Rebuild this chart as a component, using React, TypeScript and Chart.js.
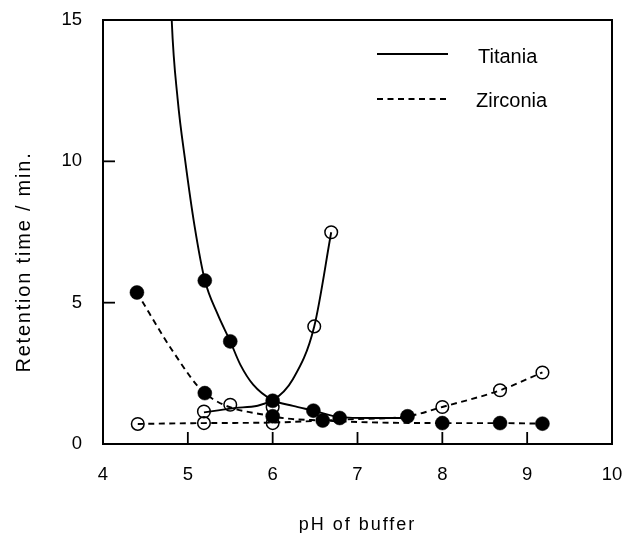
import React, { useEffect, useRef } from "react";
import { Chart, registerables } from "chart.js";

Chart.register(...registerables);

// Axis ticks
const xTicks = [4, 5, 6, 7, 8, 9, 10];
const yTicks = [0, 5, 10, 15];

// Text
const xTitle = "pH of buffer";
const yTitle = "Retention time / min.";
const legendLabels = ["Titania", "Zirconia"];

// Measured points — Titania (solid curves)
const tiFilledX = [5.2, 5.5, 6.0, 6.48, 6.79, 7.59];
const tiFilledY = [5.78, 3.63, 1.53, 1.18, 0.92, 0.98];
const tiOpenX = [5.19, 5.5, 6.0, 6.49, 6.69];
const tiOpenY = [1.15, 1.39, 1.3, 4.16, 7.49];

// Measured points — Zirconia (dashed curves)
const zrFilledX = [4.4, 5.2, 6.0, 6.59, 8.0, 8.68, 9.18];
const zrFilledY = [5.36, 1.8, 0.98, 0.83, 0.74, 0.74, 0.72];
const zrOpenX = [4.41, 5.19, 6.0, 8.0, 8.68, 9.18];
const zrOpenY = [0.71, 0.74, 0.74, 1.31, 1.9, 2.53];

// Fitted curves
const tiCurve1X = [4.8, 4.81, 4.88, 4.97, 5.08, 5.2, 5.35, 5.5, 5.62, 5.77, 6.0, 6.24, 6.48, 6.79, 7.15, 7.52];
const tiCurve1Y = [16, 15, 12.2, 10, 7.7, 5.8, 4.6, 3.63, 2.8, 2.1, 1.55, 1.35, 1.18, 0.95, 0.92, 0.92];
const tiCurve2X = [5.19, 5.5, 6.0, 6.24, 6.49, 6.69];
const tiCurve2Y = [1.12, 1.25, 1.55, 2.3, 4.16, 7.49];
const zrCurve1X = [4.4, 4.83, 5.2, 6.0, 6.59, 8.0, 8.68, 9.18];
const zrCurve1Y = [5.36, 3.25, 1.8, 0.98, 0.83, 0.74, 0.74, 0.72];
const zrCurve2X = [4.41, 5.19, 6.0, 6.95, 7.59, 8.0, 8.68, 9.18];
const zrCurve2Y = [0.71, 0.74, 0.76, 0.88, 0.98, 1.31, 1.9, 2.53];

const FONT = "'Liberation Sans', Arial, Helvetica, sans-serif";
const DASH = [6, 4.5];

const pts = (xs: number[], ys: number[]) => xs.map((x, i) => ({ x, y: ys[i] }));

const zeroPad = (s: any) => {
  s.paddingLeft = 0;
  s.paddingRight = 0;
  s.paddingTop = 0;
  s.paddingBottom = 0;
};

export default function App() {
  const ref = useRef<HTMLCanvasElement>(null);

  useEffect(() => {
    if (!ref.current) return;

    const curve = (label: string, xs: number[], ys: number[], dash: number[]) => ({
      type: "line" as const,
      label,
      data: pts(xs, ys),
      borderColor: "#000",
      borderWidth: 1.9,
      borderDash: dash,
      pointRadius: 0,
      fill: false,
      showLine: true,
      cubicInterpolationMode: "monotone" as const,
      order: 2,
    });
    const markers = (label: string, xs: number[], ys: number[], filled: boolean) => ({
      type: "scatter" as const,
      label,
      data: pts(xs, ys),
      showLine: false,
      pointRadius: filled ? 7 : 6.3,
      pointBackgroundColor: filled ? "#000" : "rgba(0,0,0,0)",
      pointBorderColor: "#000",
      pointBorderWidth: filled ? 0.5 : 1.5,
      order: 1,
    });

    const framePlugin = {
      id: "frame",
      afterDraw(chart: any) {
        const { ctx, chartArea: a, scales } = chart;
        ctx.save();
        ctx.strokeStyle = "#000";
        ctx.setLineDash([]);
        ctx.lineWidth = 2;
        ctx.strokeRect(a.left, a.top, a.right - a.left, a.bottom - a.top);
        ctx.lineWidth = 1.8;
        const tl = 12;
        xTicks.slice(1, -1).forEach((v) => {
          const px = scales.x.getPixelForValue(v);
          ctx.beginPath();
          ctx.moveTo(px, a.bottom);
          ctx.lineTo(px, a.bottom - tl);
          ctx.stroke();
        });
        yTicks.slice(1, -1).forEach((v) => {
          const py = scales.y.getPixelForValue(v);
          ctx.beginPath();
          ctx.moveTo(a.left, py);
          ctx.lineTo(a.left + tl, py);
          ctx.stroke();
        });

        // Legend
        ctx.fillStyle = "#000";
        ctx.font = `20px ${FONT}`;
        ctx.textAlign = "left";
        ctx.textBaseline = "alphabetic";
        ctx.lineWidth = 1.8;
        ctx.beginPath();
        ctx.moveTo(377, 54);
        ctx.lineTo(448, 54);
        ctx.stroke();
        ctx.fillText(legendLabels[0], 478, 62.5);
        ctx.setLineDash(DASH);
        ctx.beginPath();
        ctx.moveTo(377, 99);
        ctx.lineTo(447, 99);
        ctx.stroke();
        ctx.setLineDash([]);
        ctx.fillText(legendLabels[1], 476, 106.5);

        // Axis titles
        ctx.textAlign = "center";
        ctx.font = `18px ${FONT}`;
        (ctx as any).letterSpacing = "2px";
        ctx.fillText(xTitle, (a.left + a.right) / 2, 529.5);
        ctx.save();
        ctx.font = `20px ${FONT}`;
        (ctx as any).letterSpacing = "1.8px";
        ctx.translate(29.5, 262);
        ctx.rotate(-Math.PI / 2);
        ctx.fillText(yTitle, 0, 0);
        ctx.restore();
        (ctx as any).letterSpacing = "0px";
        ctx.restore();
      },
    };

    const chart = new Chart(ref.current, {
      type: "scatter",
      data: {
        datasets: [
          curve("Titania curve 1", tiCurve1X, tiCurve1Y, []),
          curve("Titania curve 2", tiCurve2X, tiCurve2Y, []),
          curve("Zirconia curve 1", zrCurve1X, zrCurve1Y, DASH),
          curve("Zirconia curve 2", zrCurve2X, zrCurve2Y, DASH),
          markers("Titania filled", tiFilledX, tiFilledY, true),
          markers("Titania open", tiOpenX, tiOpenY, false),
          markers("Zirconia filled", zrFilledX, zrFilledY, true),
          markers("Zirconia open", zrOpenX, zrOpenY, false),
        ] as any,
      },
      options: {
        animation: false,
        responsive: true,
        maintainAspectRatio: false,
        layout: { padding: { left: 0, top: 20, right: 14, bottom: 0 } },
        plugins: {
          legend: { display: false },
          tooltip: { enabled: false },
          title: { display: false },
        },
        scales: {
          x: {
            type: "linear",
            min: xTicks[0],
            max: xTicks[xTicks.length - 1],
            grid: { display: false, drawTicks: false },
            border: { display: false },
            afterBuildTicks: (s: any) => {
              s.ticks = xTicks.map((v) => ({ value: v }));
            },
            afterFit: (s: any) => {
              s.height = 89;
              zeroPad(s);
            },
            ticks: {
              color: "#000",
              padding: 20,
              maxRotation: 0,
              font: { family: FONT, size: 18.5 },
            },
          },
          y: {
            type: "linear",
            min: yTicks[0],
            max: yTicks[yTicks.length - 1],
            grid: { display: false, drawTicks: false },
            border: { display: false },
            afterBuildTicks: (s: any) => {
              s.ticks = yTicks.map((v) => ({ value: v }));
            },
            afterFit: (s: any) => {
              s.width = 103;
              zeroPad(s);
            },
            ticks: {
              color: "#000",
              padding: 21,
              font: { family: FONT, size: 18.5 },
            },
          },
        },
      },
      plugins: [framePlugin],
    });
    return () => chart.destroy();
  }, []);

  return (
    <div style={{ position: "absolute", left: 0, top: 0, width: 626, height: 533, background: "#fff" }}>
      <canvas ref={ref} />
    </div>
  );
}
